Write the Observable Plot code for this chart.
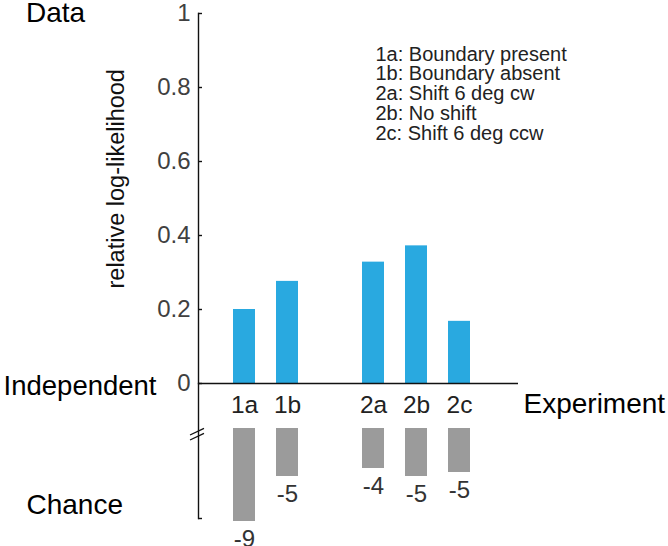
<!DOCTYPE html>
<html><head><meta charset="utf-8">
<script src="https://cdn.jsdelivr.net/npm/d3@7"></script>
<script src="https://cdn.jsdelivr.net/npm/@observablehq/plot@0.6"></script>
<style>
html,body{margin:0;padding:0;background:#fff;overflow:hidden}
#chart{position:relative;width:668px;height:546px}
#chart svg{position:absolute;left:0;top:0}
</style></head><body><div id="chart"></div>
<script>
const experiments = ["1a", "1b", "2a", "2b", "2c"];
const descriptions = ["Boundary present", "Boundary absent", "Shift 6 deg cw", "No shift", "Shift 6 deg ccw"];
const slots = ["1a", "1b", "gap", "2a", "2b", "2c"];
const relLogLik = [0.20, 0.276, 0.328, 0.372, 0.168];
const chanceValues = [-9.3, -4.8, -4.0, -4.8, -4.4];
const chanceLabels = ["-9", "-5", "-4", "-5", "-5"];
const yTicks = [0, 0.2, 0.4, 0.6, 0.8, 1];
const yTickLabels = ["0", "0.2", "0.4", "0.6", "0.8", "1"];
const chanceTicks = [-9];
const chanceDomain = [-9, 4.5];

const W = 668, H = 546;
const font = "'Liberation Sans', Arial, Helvetica, sans-serif";
const blue = "#29a9e0", gray = "#9b9b9b", ink = "#111";
const dataRows = experiments.map((e, i) => ({exp: e, value: relLogLik[i]}));
const chanceRows = experiments.map((e, i) => ({exp: e, value: chanceValues[i], label: chanceLabels[i]}));
const legend = experiments.map((e, i) => `${e}: ${descriptions[i]}`).join("\n");

const xScale = {type: "band", domain: slots, range: [211.5, 491], paddingInner: 0.5, paddingOuter: 0.5};
const common = {width: W, height: H, marginLeft: 198, marginRight: 150,
  style: {fontFamily: font, background: "transparent", overflow: "visible"}};

const topPlot = Plot.plot({
  ...common, marginTop: 13, marginBottom: 163,
  x: xScale,
  y: {domain: [0, 1]},
  marks: [
    Plot.barY(dataRows, {x: "exp", y: "value", fill: blue}),
    Plot.ruleY([0], {stroke: ink, strokeWidth: 1.4}),
    Plot.frame({anchor: "left", stroke: ink, strokeWidth: 1.4}),
    Plot.tickY(yTicks, {y: d => d, stroke: ink, strokeWidth: 1.4, insetRight: 316}),
    Plot.axisY({ticks: yTicks, tickSize: 0, tickPadding: 8, fontSize: 24, color: "#404040", label: null,
      tickFormat: d => yTickLabels[yTicks.indexOf(d)]}),
    Plot.axisX({ticks: experiments, tickSize: 0, tickPadding: 12, fontSize: 24.5, color: "#222", label: null}),
    Plot.text([legend], {frameAnchor: "top-left", dx: 177, dy: 32.8, textAnchor: "start", lineAnchor: "top",
      lineHeight: 1, fontSize: 20, fill: "#222"}),
    Plot.text(["relative log-likelihood"], {frameAnchor: "left", rotate: -90, dx: -74.7, dy: -19.7,
      lineAnchor: "bottom", textAnchor: "middle", fontSize: 23.5, fill: ink}),
    Plot.text(["Data"], {frameAnchor: "top-left", dx: -172.5, dy: 8.5, textAnchor: "start", lineAnchor: "bottom", fontSize: 28, fill: "#000"}),
    Plot.text(["Independent"], {frameAnchor: "bottom-left", dx: -42, dy: 11.3, textAnchor: "end", lineAnchor: "bottom", fontSize: 27.5, fill: "#000"}),
    Plot.text(["Experiment"], {frameAnchor: "bottom-right", dx: 5, dy: 29.5, textAnchor: "start", lineAnchor: "bottom", fontSize: 28, fill: "#000"})
  ]
});

const bottomPlot = Plot.plot({
  ...common, marginTop: 383, marginBottom: 28,
  x: {...xScale, axis: null},
  y: {domain: chanceDomain, axis: null},
  marks: [
    Plot.barY(chanceRows, {x: "exp", y: "value", fill: gray}),
    Plot.frame({anchor: "left", stroke: ink, strokeWidth: 1.4}),
    Plot.tickY(chanceTicks, {y: d => d, stroke: ink, strokeWidth: 1.4, insetRight: 316}),
    Plot.text(chanceRows, {x: "exp", y: "value", text: "label", dy: 18, fontSize: 24, fill: "#333"}),
    Plot.text(["Chance"], {frameAnchor: "bottom-left", dx: -172, dy: -4.7, textAnchor: "start", lineAnchor: "bottom", fontSize: 28, fill: "#000"})
  ]
});

// axis break marker on the chance axis, positioned from the chance scale
const y0 = bottomPlot.scale("y").apply(0);
const xL = common.marginLeft;
const brk = d3.select(bottomPlot).append("g").attr("stroke", ink).attr("stroke-width", 1.3).attr("fill", "none");
[0, 5].forEach(o => {
  brk.append("path").attr("d", `M${xL - 8},${y0 + 7 + o}L${xL + 6},${y0 + 0.3 + o}`);
});

const el = document.getElementById("chart");
el.appendChild(topPlot);
el.appendChild(bottomPlot);
</script></body></html>
